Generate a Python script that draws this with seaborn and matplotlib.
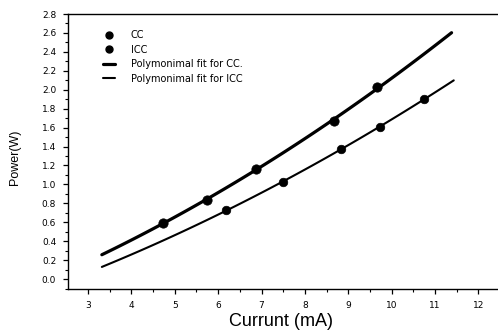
import numpy as np
import pandas as pd
import matplotlib
matplotlib.use("Agg")
import matplotlib.pyplot as plt
import seaborn as sns
from matplotlib.ticker import MultipleLocator
from matplotlib.lines import Line2D

cc_x = [4.73, 5.75, 6.87, 8.67, 9.67]
cc_y = [0.595, 0.84, 1.16, 1.673, 2.026]
icc_x = [6.18, 7.50, 8.83, 9.73, 10.75]
icc_y = [0.726, 1.03, 1.37, 1.61, 1.90]

# Fitted curves (start, through points, end)
cc_fit_x = [3.32, 4.73, 5.75, 6.87, 8.67, 9.67, 11.38]
cc_fit_y = [0.254, 0.595, 0.84, 1.16, 1.673, 2.026, 2.60]
icc_fit_x = [3.32, 6.18, 7.50, 8.83, 9.73, 10.75, 11.43]
icc_fit_y = [0.127, 0.726, 1.03, 1.37, 1.61, 1.90, 2.10]

xticks = [3, 4, 5, 6, 7, 8, 9, 10, 11, 12]
yticks = [0.0, 0.2, 0.4, 0.6, 0.8, 1.0, 1.2, 1.4, 1.6, 1.8, 2.0, 2.2, 2.4, 2.6, 2.8]
labels = ["CC", "ICC", "Polymonimal fit for CC.", "Polymonimal fit for ICC"]

sns.set_style("ticks")
plt.rcParams['font.family'] = ['DejaVu Sans']
plt.rcParams['text.color'] = 'black'
plt.rcParams['axes.labelcolor'] = 'black'
plt.rcParams['xtick.color'] = 'black'
plt.rcParams['ytick.color'] = 'black'

fig = plt.figure(figsize=(4.98, 3.36), dpi=100)
ax = fig.add_axes([68/498, 47/336, 1 - 68/498, (289-14)/336])

# smooth polynomial through the curve readings
pcc = np.polyfit(cc_fit_x, cc_fit_y, 2)
picc = np.polyfit(icc_fit_x, icc_fit_y, 2)
xf_cc = np.linspace(cc_fit_x[0], cc_fit_x[-1], 100)
xf_icc = np.linspace(icc_fit_x[0], icc_fit_x[-1], 100)
fit_df_cc = pd.DataFrame({"x": xf_cc, "y": np.polyval(pcc, xf_cc)})
fit_df_icc = pd.DataFrame({"x": xf_icc, "y": np.polyval(picc, xf_icc)})

sns.lineplot(data=fit_df_cc, x="x", y="y", ax=ax, color="black", lw=2.3)
sns.lineplot(data=fit_df_icc, x="x", y="y", ax=ax, color="black", lw=1.5)
sns.scatterplot(x=cc_x, y=cc_y, ax=ax, color="black", s=45, edgecolor="black", zorder=5)
sns.scatterplot(x=icc_x, y=icc_y, ax=ax, color="black", s=38, edgecolor="black", zorder=5)

ax.set_xlim(2.54, 12.45)
ax.set_ylim(-0.105, 2.8)
ax.set_xticks(xticks)
ax.set_yticks(yticks)
ax.set_xticklabels([str(v) for v in xticks])
ax.set_yticklabels([f"{v:.1f}" for v in yticks])
ax.xaxis.set_minor_locator(MultipleLocator(0.5))
ax.yaxis.set_minor_locator(MultipleLocator(0.1))
ax.tick_params(axis='both', which='major', direction='out', length=3.5, width=0.9,
               labelsize=6.5, pad=5, colors='black')
ax.tick_params(axis='both', which='minor', direction='out', length=2, width=0.8, colors='black')
ax.spines['right'].set_visible(False)
for s in ['left', 'bottom', 'top']:
    ax.spines[s].set_linewidth(1.0)
    ax.spines[s].set_color('black')

ax.set_xlabel("Currunt (mA)", fontsize=13, color='black', family=['Liberation Sans', 'DejaVu Sans'])
ax.xaxis.set_label_coords(0.495, -0.12)
ax.xaxis.label.set_verticalalignment('center')
ax.set_ylabel("Power(W)", fontsize=9, color='black', family=['Liberation Sans', 'DejaVu Sans'])
ax.yaxis.set_label_coords(-0.123, 0.48)
ax.yaxis.label.set_verticalalignment('center')

handles = [
    Line2D([], [], ls='none', marker='o', color='black', markersize=5),
    Line2D([], [], ls='none', marker='o', color='black', markersize=5),
    Line2D([], [], color='black', lw=2.3),
    Line2D([], [], color='black', lw=1.5),
]
leg = ax.legend(handles, labels, loc='upper left', bbox_to_anchor=(0.065, 0.965), frameon=False,
                fontsize=7, handlelength=1.3, labelspacing=0.45, handletextpad=1.6,
                borderaxespad=0.3)
for t in leg.get_texts():
    t.set_color('black')

fig.savefig("out.png", dpi=100)
